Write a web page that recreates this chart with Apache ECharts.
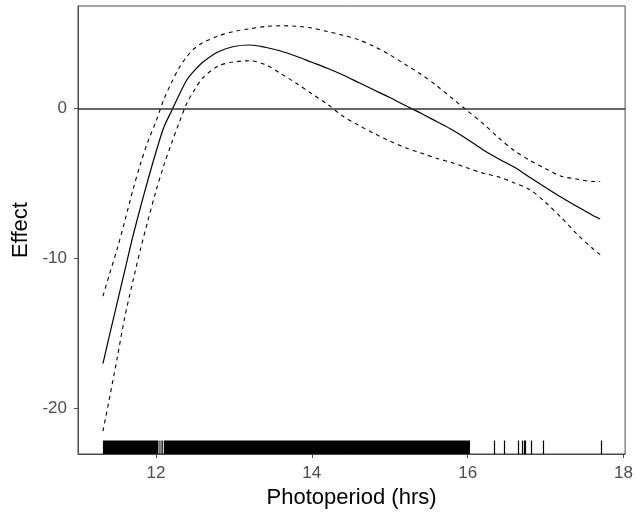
<!DOCTYPE html>
<html>
<head>
<meta charset="utf-8">
<script src="https://cdn.jsdelivr.net/npm/echarts@6/dist/echarts.min.js"></script>
<style>html,body{margin:0;padding:0;background:#fff}#c{width:636px;height:516px}</style>
</head>
<body>
<div id="c"></div>
<script>
// Photoperiod grid (hrs)
var photoperiod = [11.32, 11.4, 11.5, 11.6, 11.7, 11.8, 11.9, 12.0, 12.1, 12.2, 12.3, 12.4, 12.5, 12.6, 12.8, 13.0, 13.2, 13.4, 13.6, 13.8, 14.0, 14.2, 14.4, 14.6, 14.8, 15.0, 15.2, 15.4, 15.6, 15.8, 16.0, 16.2, 16.4, 16.6, 16.8, 17.0, 17.2, 17.4, 17.6, 17.7];
// Fitted effect
var effectFit = [-17.0, -15.2, -13.0, -10.8, -8.6, -6.6, -4.7, -2.9, -1.25, -0.15, 0.95, 1.95, 2.58, 3.1, 3.8, 4.15, 4.25, 4.1, 3.85, 3.5, 3.1, 2.7, 2.25, 1.75, 1.25, 0.75, 0.22, -0.3, -0.85, -1.4, -2.05, -2.75, -3.35, -3.9, -4.58, -5.25, -5.9, -6.5, -7.1, -7.35];
// Upper confidence band
var effectUpper = [-12.5, -11.1, -9.4, -7.5, -5.5, -3.7, -2.15, -0.85, 0.6, 1.75, 2.75, 3.5, 4.05, 4.4, 4.85, 5.15, 5.33, 5.48, 5.53, 5.5, 5.38, 5.15, 4.9, 4.6, 4.15, 3.6, 2.95, 2.3, 1.55, 0.7, -0.15, -1.0, -1.95, -2.8, -3.45, -4.0, -4.5, -4.69, -4.85, -4.85];
// Lower confidence band
var effectLower = [-21.5, -19.4, -16.7, -13.9, -11.6, -9.4, -7.4, -5.5, -3.8, -2.3, -0.9, 0.4, 1.3, 2.05, 2.85, 3.12, 3.2, 2.95, 2.35, 1.7, 1.0, 0.3, -0.5, -1.1, -1.65, -2.15, -2.6, -2.95, -3.3, -3.6, -3.95, -4.3, -4.55, -4.95, -5.4, -6.25, -7.25, -8.35, -9.3, -9.73];
// Rug: dense observation ranges and single observations
var rugRanges = [[11.32, 12.032], [12.045, 12.058], [12.071, 12.088], [12.101, 16.03]];
var rugSingles = [16.34, 16.47, 16.65, 16.70, 16.72, 16.74, 16.81, 16.97, 17.71];
// Axis ticks
var xTicks = [12, 14, 16, 18];
var yTicks = [-20, -10, 0];

function pairs(xs, ys) { return xs.map(function (x, i) { return [x, ys[i]]; }); }

var chart = echarts.init(document.getElementById('c'), null, { renderer: 'canvas' });
var axisColor = '#4d4d4d';
var lineGrey = '#4a4a4a';
var RUG_FRAC = 0.03;

function rugRect(params, api) {
  var cs = params.coordSys;
  var h = cs.height * RUG_FRAC;
  var p0 = api.coord([api.value(0), 0]);
  var p1 = api.coord([api.value(1), 0]);
  var w = Math.max(p1[0] - p0[0], 1);
  return { type: 'rect', shape: { x: p0[0], y: cs.y + cs.height - h, width: w, height: h }, style: { fill: '#000' } };
}
function rugLine(params, api) {
  var cs = params.coordSys;
  var h = cs.height * RUG_FRAC;
  var p = api.coord([api.value(0), 0]);
  var x = Math.round(p[0]) + 0.5;
  return { type: 'line', shape: { x1: x, y1: cs.y + cs.height - h, x2: x, y2: cs.y + cs.height }, style: { stroke: '#000', lineWidth: 1.2 } };
}

var option = {
  animation: false,
  backgroundColor: '#fff',
  grid: { left: 78, right: 10, top: 6, bottom: 62, show: true, borderColor: lineGrey, borderWidth: 1, containLabel: false },
  xAxis: {
    type: 'value', min: 11.0, max: 18.02,
    name: 'Photoperiod (hrs)', nameLocation: 'middle', nameGap: 31,
    nameTextStyle: { fontFamily: 'Liberation Sans', fontSize: 22, color: '#000' },
    axisLine: { show: true, onZero: false, lineStyle: { color: lineGrey, width: 1 } },
    axisTick: { show: true, length: 4, lineStyle: { color: lineGrey }, customValues: xTicks },
    axisLabel: { fontFamily: 'Liberation Sans', fontSize: 17, color: axisColor, margin: 11, customValues: xTicks },
    splitLine: { show: false }
  },
  yAxis: {
    type: 'value', min: -23.02, max: 6.85,
    name: 'Effect', nameLocation: 'middle', nameGap: 45, nameRotate: 90,
    nameTextStyle: { fontFamily: 'Liberation Sans', fontSize: 22, color: '#000' },
    axisLine: { show: true, onZero: false, lineStyle: { color: lineGrey, width: 1 } },
    axisTick: { show: true, length: 4, lineStyle: { color: lineGrey }, customValues: yTicks },
    axisLabel: { fontFamily: 'Liberation Sans', fontSize: 17, color: axisColor, margin: 11, customValues: yTicks },
    splitLine: { show: false }
  },
  series: [
    {
      type: 'line', data: pairs(photoperiod, effectFit), showSymbol: false, smooth: 0.3,
      lineStyle: { color: '#000', width: 1.2 }, z: 3,
      markLine: { silent: true, symbol: 'none', label: { show: false },
        lineStyle: { color: '#333', width: 1.5, type: 'solid' }, data: [{ yAxis: 0 }] }
    },
    {
      type: 'line', data: pairs(photoperiod, effectUpper), showSymbol: false, smooth: 0.3,
      lineStyle: { color: '#000', width: 1.1, type: [4, 4] }, z: 3
    },
    {
      type: 'line', data: pairs(photoperiod, effectLower), showSymbol: false, smooth: 0.3,
      lineStyle: { color: '#000', width: 1.1, type: [4, 4] }, z: 3
    },
    {
      type: 'custom', renderItem: rugRect, data: rugRanges, encode: { x: [0, 1] }, z: 4, silent: true
    },
    {
      type: 'custom', renderItem: rugLine, data: rugSingles.map(function (v) { return [v]; }), encode: { x: 0 }, z: 4, silent: true
    }
  ]
};
chart.setOption(option);
</script>
</body>
</html>
